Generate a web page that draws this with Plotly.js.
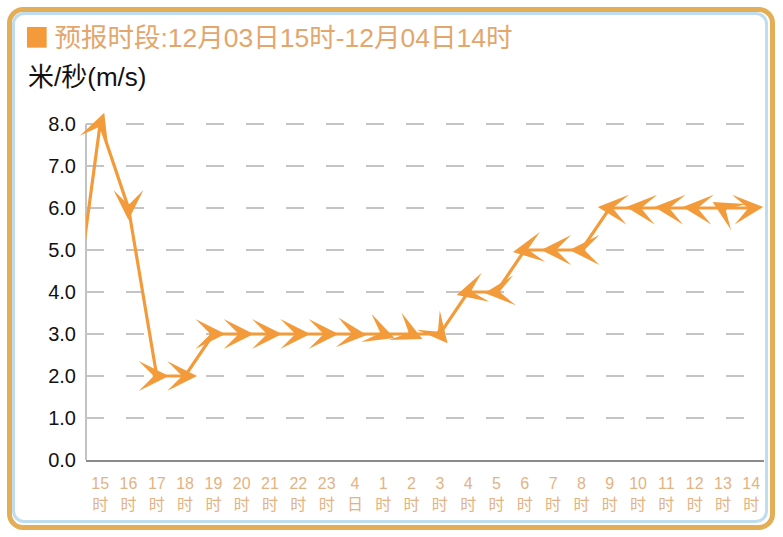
<!DOCTYPE html>
<html>
<head>
<meta charset="utf-8">
<script src="https://cdn.plot.ly/plotly-3.0.1.min.js"></script>
<style>
  html, body { margin: 0; padding: 0; background: #ffffff; }
  #wrap { position: relative; width: 783px; height: 537px; overflow: hidden; }
  #outer { position: absolute; left: 7px; top: 7px; width: 758px; height: 513px;
           border: 5px solid #E3AE55; border-radius: 16px; }
  #inner { position: absolute; left: 12px; top: 12px; width: 750px; height: 505px;
           border: 3px solid #BFDDF0; border-radius: 12px; background: #ffffff; }
  #chart { position: absolute; left: 0; top: 0; width: 783px; height: 537px; }
</style>
</head>
<body>
<div id="wrap">
  <div id="outer"></div>
  <div id="inner"></div>
  <div id="chart"></div>
</div>
<script>
// ---- data ----
const tickLabels = ['15<br>时','16<br>时','17<br>时','18<br>时','19<br>时','20<br>时','21<br>时','22<br>时','23<br>时','4<br>日',
                    '1<br>时','2<br>时','3<br>时','4<br>时','5<br>时','6<br>时','7<br>时','8<br>时','9<br>时','10<br>时',
                    '11<br>时','12<br>时','13<br>时','14<br>时'];
const speeds = [8,6,2,2,3,3,3,3,3,3,3,3,3,4,4,5,5,5,6,6,6,6,6,6];
// wind arrow directions (degrees clockwise from up)
const directions = [20,180,90,90,90,90,90,90,90,95,110,115,140,255,265,260,270,270,275,275,275,275,300,85];
// value of the hour before the window (line enters from the left edge)
const prevSpeed = 3;
const yTicks = [0,1,2,3,4,5,6,7,8];

const idx = speeds.map((_, i) => i);
const lineX = [-1].concat(idx);
const lineY = [prevSpeed].concat(speeds);

const orange = '#F39B3B';
const fontFam = '"Liberation Sans", "Noto Sans CJK SC", sans-serif';

const trace = {
  x: lineX, y: lineY, type: 'scatter', mode: 'lines',
  line: { color: orange, width: 3.2 },
  hoverinfo: 'skip'
};

const arrowLen = 13, tipAhead = 12;
const arrows = speeds.map((v, i) => {
  const t = directions[i] * Math.PI / 180;
  return {
    x: i, y: v, xref: 'x', yref: 'y', text: '', font: { size: 1 }, borderpad: 0,
    showarrow: true, arrowhead: 3, arrowsize: 2.5, arrowwidth: 2,
    arrowcolor: orange,
    ax: -arrowLen * Math.sin(t), ay: arrowLen * Math.cos(t),
    xshift: tipAhead * Math.sin(t), yshift: tipAhead * Math.cos(t)
  };
});

const unitLabel = {
  text: '米/秒(m/s)', xref: 'paper', yref: 'paper', x: -0.089, y: 1.073,
  xanchor: 'left', yanchor: 'middle', showarrow: false,
  font: { family: fontFam, size: 26, color: '#111111' }
};

const layout = {
  width: 783, height: 537,
  margin: { l: 86, r: 19, t: 103, b: 77 },
  paper_bgcolor: 'rgba(0,0,0,0)', plot_bgcolor: 'rgba(0,0,0,0)',
  showlegend: false,
  title: {
    text: '预报时段:12月03日15时-12月04日14时',
    xref: 'container', yref: 'container', x: 0.0695, xanchor: 'left', y: 0.929, yanchor: 'middle',
    font: { family: fontFam, size: 26.5, color: '#E3A66C' }
  },
  xaxis: {
    range: [-0.5, 23.45], tickvals: idx, ticktext: tickLabels,
    showgrid: false, zeroline: false, showline: true, linecolor: '#8a8a8a', linewidth: 1.5,
    ticks: '', ticklabelstandoff: 8,
    tickfont: { family: fontFam, size: 16, color: '#E2B384' }
  },
  yaxis: {
    range: [0, 8.5], tickvals: yTicks, tickformat: '.1f',
    showgrid: true, gridcolor: '#C4C4C4', gridwidth: 1.5, griddash: '18px,22px',
    zeroline: false, showline: false, ticks: '', ticklabelstandoff: 9,
    tickfont: { family: fontFam, size: 20, color: '#111111' }
  },
  shapes: [
    { type: 'line', xref: 'paper', yref: 'y', x0: 0, x1: 0, y0: 0, y1: 8,
      line: { color: '#9a9a9a', width: 1.2 }, layer: 'below' },
    { type: 'rect', xref: 'paper', yref: 'paper', x0: -0.087, x1: -0.058, y0: 1.155, y1: 1.213,
      fillcolor: '#F59A3A', line: { width: 0 } }
  ],
  annotations: [unitLabel].concat(arrows)
};

Plotly.newPlot('chart', [trace], layout, { displayModeBar: false, staticPlot: true });
</script>
</body>
</html>
